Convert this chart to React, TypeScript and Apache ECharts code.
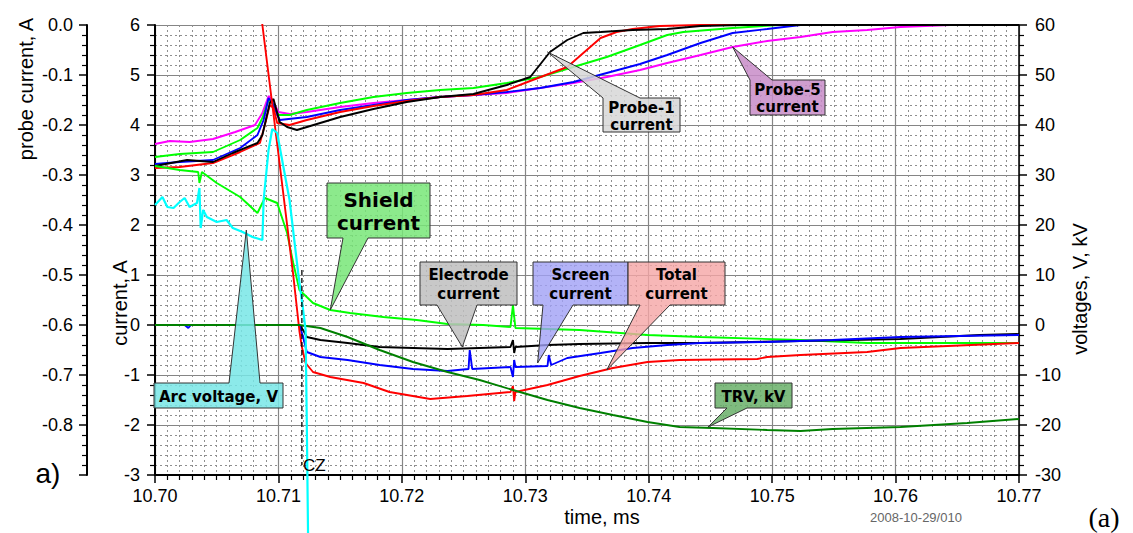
import React, { useEffect, useRef } from "react";
import * as echarts from "echarts";

// ---------- data (time in ms) ----------
// probe currents, A (probe axis)
const probe5: number[][] = [
  [10.7, -0.238], [10.7012, -0.232], [10.7028, -0.234], [10.7047, -0.228], [10.7065, -0.214],
  [10.7081, -0.2], [10.7087, -0.176], [10.7092, -0.142], [10.7095, -0.15], [10.71, -0.174],
  [10.7109, -0.178], [10.7123, -0.174], [10.715, -0.164], [10.7177, -0.156], [10.7204, -0.15],
  [10.7231, -0.144], [10.7258, -0.14], [10.7285, -0.136], [10.7312, -0.126], [10.7339, -0.116],
  [10.7366, -0.104], [10.7393, -0.09], [10.7415, -0.076], [10.7442, -0.06], [10.7468, -0.044],
  [10.7496, -0.032], [10.7523, -0.024], [10.7549, -0.014], [10.7577, -0.01], [10.7604, -0.004],
  [10.7644, 0], [10.77, 0],
];
const probeGreen: number[][] = [
  [10.7, -0.264], [10.702, -0.258], [10.7047, -0.254], [10.7069, -0.23], [10.7083, -0.206],
  [10.7087, -0.186], [10.7092, -0.15], [10.7095, -0.156], [10.71, -0.18], [10.7109, -0.18],
  [10.7123, -0.17], [10.715, -0.156], [10.7177, -0.144], [10.7204, -0.136], [10.7231, -0.13],
  [10.7258, -0.126], [10.7285, -0.116], [10.7312, -0.104], [10.7339, -0.084], [10.7366, -0.064],
  [10.7393, -0.04], [10.7415, -0.02], [10.7428, -0.014], [10.7468, -0.006], [10.7506, 0], [10.77, 0],
];
const probeBlue: number[][] = [
  [10.7, -0.278], [10.702, -0.274], [10.7047, -0.27], [10.7069, -0.246], [10.7083, -0.22],
  [10.7088, -0.19], [10.7092, -0.146], [10.7095, -0.156], [10.7101, -0.19], [10.7123, -0.184],
  [10.715, -0.17], [10.7177, -0.16], [10.7204, -0.15], [10.7231, -0.144], [10.7258, -0.14],
  [10.7285, -0.134], [10.7312, -0.126], [10.7339, -0.114], [10.7366, -0.096], [10.7393, -0.078],
  [10.7415, -0.06], [10.7442, -0.036], [10.7468, -0.016], [10.7496, -0.008], [10.7523, 0], [10.77, 0],
];
const probeRed: number[][] = [
  [10.7, -0.286], [10.702, -0.284], [10.7047, -0.276], [10.7069, -0.254], [10.7085, -0.236],
  [10.7089, -0.2], [10.7093, -0.16], [10.7096, -0.166], [10.7099, -0.196], [10.7109, -0.2],
  [10.7123, -0.19], [10.715, -0.174], [10.7177, -0.162], [10.7204, -0.152], [10.7231, -0.144],
  [10.7258, -0.14], [10.7285, -0.13], [10.7306, -0.11], [10.7334, -0.084], [10.7347, -0.056],
  [10.7361, -0.026], [10.7374, -0.014], [10.7387, -0.008], [10.7409, -0.002], [10.7442, 0], [10.77, 0],
];
const probe1: number[][] = [
  [10.7, -0.282], [10.7026, -0.27], [10.7047, -0.274], [10.7063, -0.256], [10.7083, -0.236],
  [10.7087, -0.22], [10.7093, -0.156], [10.7096, -0.148], [10.7101, -0.194], [10.7107, -0.204],
  [10.7115, -0.21], [10.715, -0.184], [10.7177, -0.168], [10.7204, -0.154], [10.7231, -0.144],
  [10.7258, -0.138], [10.7285, -0.12], [10.7304, -0.104], [10.732, -0.054], [10.7334, -0.03],
  [10.7347, -0.016], [10.7361, -0.014], [10.7387, -0.01], [10.7415, -0.008], [10.7442, -0.002],
  [10.7474, 0], [10.77, 0],
];

// currents, A (current axis)
const shieldCurrent: number[][] = [
  [10.7, 3.18], [10.702, 3.1], [10.7035, 3.06], [10.7036, 2.84], [10.7038, 3.06], [10.705, 2.84],
  [10.7069, 2.56], [10.7083, 2.24], [10.7089, 2.54], [10.7099, 2.44], [10.7107, 1.84],
  [10.7112, 1.24], [10.7117, 0.7], [10.7128, 0.44], [10.7142, 0.3], [10.7158, 0.24],
  [10.7185, 0.16], [10.7212, 0.1], [10.7237, 0.02], [10.7266, 0], [10.7288, -0.04],
  [10.729, 0.4], [10.7292, -0.06], [10.7344, -0.1], [10.7399, -0.2], [10.7442, -0.24],
  [10.7523, -0.3], [10.7577, -0.36], [10.763, -0.36], [10.77, -0.36],
];
const electrodeCurrent: number[][] = [
  [10.7, 0], [10.7117, 0], [10.712, -0.1], [10.7123, -0.24], [10.7134, -0.3], [10.7156, -0.36],
  [10.7182, -0.44], [10.7209, -0.46], [10.7237, -0.48], [10.7263, -0.46], [10.7288, -0.44],
  [10.729, -0.3], [10.7291, -0.56], [10.7292, -0.44], [10.7318, -0.4], [10.7344, -0.38],
  [10.7399, -0.36], [10.7442, -0.36], [10.7523, -0.32], [10.7604, -0.28], [10.7668, -0.2],
  [10.77, -0.18],
];
const screenCurrent: number[][] = [
  [10.7, 0], [10.7024, 0], [10.7027, -0.06], [10.7029, 0], [10.7117, 0], [10.712, -0.24],
  [10.7123, -0.54], [10.7134, -0.64], [10.7156, -0.7], [10.7182, -0.8], [10.7209, -0.88],
  [10.7237, -0.92], [10.7254, -0.88], [10.7255, -0.5], [10.7257, -0.88], [10.7288, -0.84],
  [10.729, -1.04], [10.7291, -0.7], [10.7292, -0.84], [10.7318, -0.82], [10.7319, -0.6],
  [10.7321, -0.8], [10.7334, -0.66], [10.7361, -0.56], [10.7387, -0.46], [10.7415, -0.4],
  [10.7442, -0.36], [10.7496, -0.34], [10.7549, -0.3], [10.7604, -0.24], [10.77, -0.2],
];
const totalCurrent: number[][] = [
  [10.7081, 7.0], [10.7087, 6.0], [10.71, 3.42], [10.7112, 1.0], [10.7117, -0.12],
  [10.7119, -0.44], [10.7122, -0.76], [10.7128, -0.94], [10.7142, -1.04], [10.7169, -1.16],
  [10.719, -1.34], [10.7223, -1.48], [10.7253, -1.42], [10.7288, -1.34], [10.729, -1.22],
  [10.7291, -1.52], [10.7292, -1.34], [10.7318, -1.2], [10.7344, -1.02], [10.7371, -0.86],
  [10.7399, -0.74], [10.7425, -0.7], [10.7488, -0.68], [10.7496, -0.64], [10.7523, -0.6],
  [10.7577, -0.54], [10.7604, -0.46], [10.77, -0.36],
];
const currentZero: number[][] = [[10.7119, 1.1], [10.7119, -2.8]];

// voltages (voltage axis)
const trv: number[][] = [
  [10.7, 0], [10.7117, 0], [10.7134, -0.6], [10.7156, -2.4], [10.7182, -5.0], [10.7209, -7.4],
  [10.7237, -9.4], [10.7263, -11.0], [10.729, -13.0], [10.7318, -15.0], [10.7344, -16.6],
  [10.7371, -18.0], [10.7399, -19.4], [10.7425, -20.4], [10.7452, -20.6], [10.7496, -21.0],
  [10.7523, -21.2], [10.7549, -20.8], [10.7604, -20.4], [10.7658, -19.6], [10.77, -18.8],
];
const arcVoltage: number[][] = [
  [10.7, 24.0], [10.7006, 25.6], [10.701, 23.6], [10.7015, 23.4], [10.702, 24.6], [10.7024, 25.4],
  [10.7028, 23.6], [10.7034, 24.4], [10.7036, 27.4], [10.7037, 19.4], [10.7039, 23.0],
  [10.7042, 21.6], [10.705, 20.6], [10.7058, 21.0], [10.7063, 19.4], [10.7071, 18.6],
  [10.7079, 17.6], [10.7087, 17.0], [10.7088, 25.0], [10.7092, 35.0], [10.7095, 39.2],
  [10.7099, 38.4], [10.7103, 33.0], [10.7109, 25.0], [10.7116, 10.4], [10.712, 3.0],
  [10.7122, -1.0], [10.7123, -20.0], [10.7124, -42.0],
];

const FONT = "'Liberation Sans', Arial, sans-serif";
const CFONT = "'DejaVu Sans', Verdana, sans-serif";

type Callout = {
  text: string; axis: number; tip: number[];
  box: number[]; base: number[]; side: "top" | "bottom";
  fill: string; size: number; lh: number;
};
const callouts: Callout[] = [
  { text: "Arc voltage, V", axis: 2, tip: [10.7074, 19.0], box: [154, 383, 283, 408], base: [229, 260], side: "top", fill: "rgba(120,230,230,0.85)", size: 15, lh: 19 },
  { text: "Shield\ncurrent", axis: 1, tip: [10.7142, 0.3], box: [327, 183, 430, 238], base: [343, 368], side: "bottom", fill: "rgba(120,230,120,0.85)", size: 20, lh: 23 },
  { text: "Electrode\ncurrent", axis: 1, tip: [10.7249, -0.44], box: [420, 262, 517, 305], base: [437, 477], side: "bottom", fill: "rgba(190,190,190,0.85)", size: 15, lh: 19 },
  { text: "Screen\ncurrent", axis: 1, tip: [10.731, -0.76], box: [533, 262, 628, 305], base: [543, 573], side: "bottom", fill: "rgba(160,160,245,0.8)", size: 15, lh: 19 },
  { text: "Total\ncurrent", axis: 1, tip: [10.7366, -0.9], box: [628, 262, 725, 305], base: [640, 670], side: "bottom", fill: "rgba(245,165,165,0.8)", size: 15, lh: 19 },
  { text: "TRV, kV", axis: 2, tip: [10.7448, -20.4], box: [715, 383, 792, 408], base: [727, 747], side: "bottom", fill: "rgba(105,175,105,0.85)", size: 15, lh: 19 },
  { text: "Probe-1\ncurrent", axis: 0, tip: [10.7318, -0.054], box: [603, 98, 680, 132], base: [603, 640], side: "top", fill: "rgba(215,215,215,0.85)", size: 15, lh: 17 },
  { text: "Probe-5\ncurrent", axis: 0, tip: [10.7468, -0.044], box: [750, 80, 825, 115], base: [750, 772], side: "top", fill: "rgba(200,140,200,0.85)", size: 15, lh: 17 },
];

const gridMinor = { show: true, lineStyle: { color: "#8f8f8f", width: 1, type: [2, 3] as any } };
const gridMajor = { show: true, lineStyle: { color: "#858585", width: 1.2 } };
const axisLabelBase = { color: "#000", fontSize: 18, fontFamily: FONT };

function line(name: string, data: number[][], yAxisIndex: number, color: string, extra: any = {}) {
  return {
    name, type: "line", data, yAxisIndex, showSymbol: false, symbol: "none", silent: true,
    lineStyle: { color, width: 1.9 }, itemStyle: { color }, ...extra,
  };
}

export default function App() {
  const ref = useRef<HTMLDivElement>(null);
  useEffect(() => {
    if (!ref.current) return;
    const chart = echarts.init(ref.current, null, { renderer: "svg" });
    const option: any = {
      animation: false,
      backgroundColor: "#fff",
      grid: { left: 155, right: 114, top: 25, bottom: 58, containLabel: false },
      xAxis: {
        type: "value", min: 10.7, max: 10.77, interval: 0.01,
        axisLine: { onZero: false, lineStyle: { color: "#000", width: 2 } },
        axisTick: { show: true, length: 8, lineStyle: { color: "#000", width: 1.5 } },
        minorTick: { show: true, splitNumber: 10, length: 5, lineStyle: { color: "#000", width: 1.2 } },
        axisLabel: { ...axisLabelBase, margin: 12, formatter: (v: number) => v.toFixed(2) },
        splitLine: gridMajor,
        minorSplitLine: gridMinor,
      },
      yAxis: [
        {
          type: "value", position: "left", offset: 68, min: -0.9, max: 0, interval: 0.1,
          axisLine: { show: true, onZero: false, lineStyle: { color: "#000", width: 2 } },
          axisTick: { show: true, length: 8, lineStyle: { color: "#000", width: 1.5 } },
          minorTick: { show: true, splitNumber: 5, length: 5, lineStyle: { color: "#000", width: 1.2 } },
          axisLabel: { ...axisLabelBase, margin: 14, formatter: (v: number) => (v < -0.85 ? "" : v.toFixed(1)) },
          splitLine: { show: false },
        },
        {
          type: "value", position: "left", min: -3, max: 6, interval: 1,
          axisLine: { show: true, onZero: false, lineStyle: { color: "#000", width: 2 } },
          axisTick: { show: true, length: 8, lineStyle: { color: "#000", width: 1.5 } },
          minorTick: { show: true, splitNumber: 5, length: 5, lineStyle: { color: "#000", width: 1.2 } },
          axisLabel: { ...axisLabelBase, margin: 15, formatter: (v: number) => String(Math.round(v)) },
          splitLine: gridMajor,
          minorSplitLine: gridMinor,
        },
        {
          type: "value", position: "right", min: -30, max: 60, interval: 10,
          axisLine: { show: true, onZero: false, lineStyle: { color: "#000", width: 1.5 } },
          axisTick: { show: true, length: 8, lineStyle: { color: "#000", width: 1.5 } },
          minorTick: { show: true, splitNumber: 5, length: 5, lineStyle: { color: "#000", width: 1.2 } },
          axisLabel: { ...axisLabelBase, margin: 16, formatter: (v: number) => String(Math.round(v)) },
          splitLine: { show: false },
        },
      ],
      series: [
        line("Probe-5 current", probe5, 0, "#ff00ff"),
        line("Probe green", probeGreen, 0, "#00ff00"),
        line("Probe blue", probeBlue, 0, "#0000ff"),
        line("Probe red", probeRed, 0, "#ff0000"),
        line("Probe-1 current", probe1, 0, "#000000"),
        line("Shield current", shieldCurrent, 1, "#00ff00"),
        line("Electrode current", electrodeCurrent, 1, "#000000"),
        line("Screen current", screenCurrent, 1, "#0000ff"),
        line("Total current", totalCurrent, 1, "#ff0000"),
        line("TRV, kV", trv, 2, "#008000"),
        line("Arc voltage, V", arcVoltage, 2, "#00ffff", { clip: false, lineStyle: { color: "#00ffff", width: 2.2 } }),
        line("CZ", currentZero, 1, "#000000", { lineStyle: { color: "#000", width: 1.3, type: [5, 3] } }),
      ],
    };
    chart.setOption(option);

    const graphics: any[] = [];
    callouts.forEach((c) => {
      const [tx, ty] = chart.convertToPixel({ xAxisIndex: 0, yAxisIndex: c.axis }, c.tip) as number[];
      const [x0, y0, x1, y1] = c.box;
      const [b0, b1] = c.base;
      const pts =
        c.side === "bottom"
          ? [[x0, y0], [x1, y0], [x1, y1], [b1, y1], [tx, ty], [b0, y1], [x0, y1]]
          : [[x0, y0], [b0, y0], [tx, ty], [b1, y0], [x1, y0], [x1, y1], [x0, y1]];
      graphics.push({
        type: "polygon", z: 100, silent: true,
        shape: { points: pts },
        style: { fill: c.fill, stroke: "#333", lineWidth: 1 },
      });
      graphics.push({
        type: "text", z: 101, silent: true,
        x: (x0 + x1) / 2, y: (y0 + y1) / 2 + 1,
        style: {
          text: c.text, fill: "#000", fontSize: c.size, fontWeight: "bold", fontFamily: CFONT,
          align: "center", verticalAlign: "middle", lineHeight: c.lh,
        },
      });
    });
    const [czx, czy] = chart.convertToPixel({ xAxisIndex: 0, yAxisIndex: 1 }, currentZero[1]) as number[];
    graphics.push({
      type: "text", z: 101, silent: true, x: czx + 1, y: czy,
      style: { text: "CZ", fill: "#000", fontSize: 17, fontFamily: FONT, align: "left", verticalAlign: "middle" },
    });
    const txt = (text: string, x: number, y: number, size: number, extra: any = {}, rot = 0) => ({
      type: "text", z: 101, silent: true, x, y, rotation: rot,
      style: { text, fill: "#000", fontSize: size, fontFamily: FONT, align: "center", verticalAlign: "middle", ...extra },
    });
    graphics.push(txt("probe current, A", 26, 89, 20, {}, Math.PI / 2));
    graphics.push(txt("current, A", 120, 303, 20, {}, Math.PI / 2));
    graphics.push(txt("voltages, V, kV", 1080, 289, 20, {}, Math.PI / 2));
    graphics.push(txt("time, ms", 602, 517, 20));
    graphics.push(txt("2008-10-29/010", 916, 517, 13, { fill: "#666" }));
    graphics.push(txt("a)", 48, 473, 28));
    graphics.push(txt("(a)", 1104, 517, 28, { fontFamily: "'Liberation Serif', 'Times New Roman', serif" }));
    chart.setOption({ graphic: graphics });

    return () => chart.dispose();
  }, []);
  return (
    <div
      ref={ref}
      style={{ position: "fixed", left: 0, top: 0, width: 1133, height: 533, background: "#fff" }}
    />
  );
}
